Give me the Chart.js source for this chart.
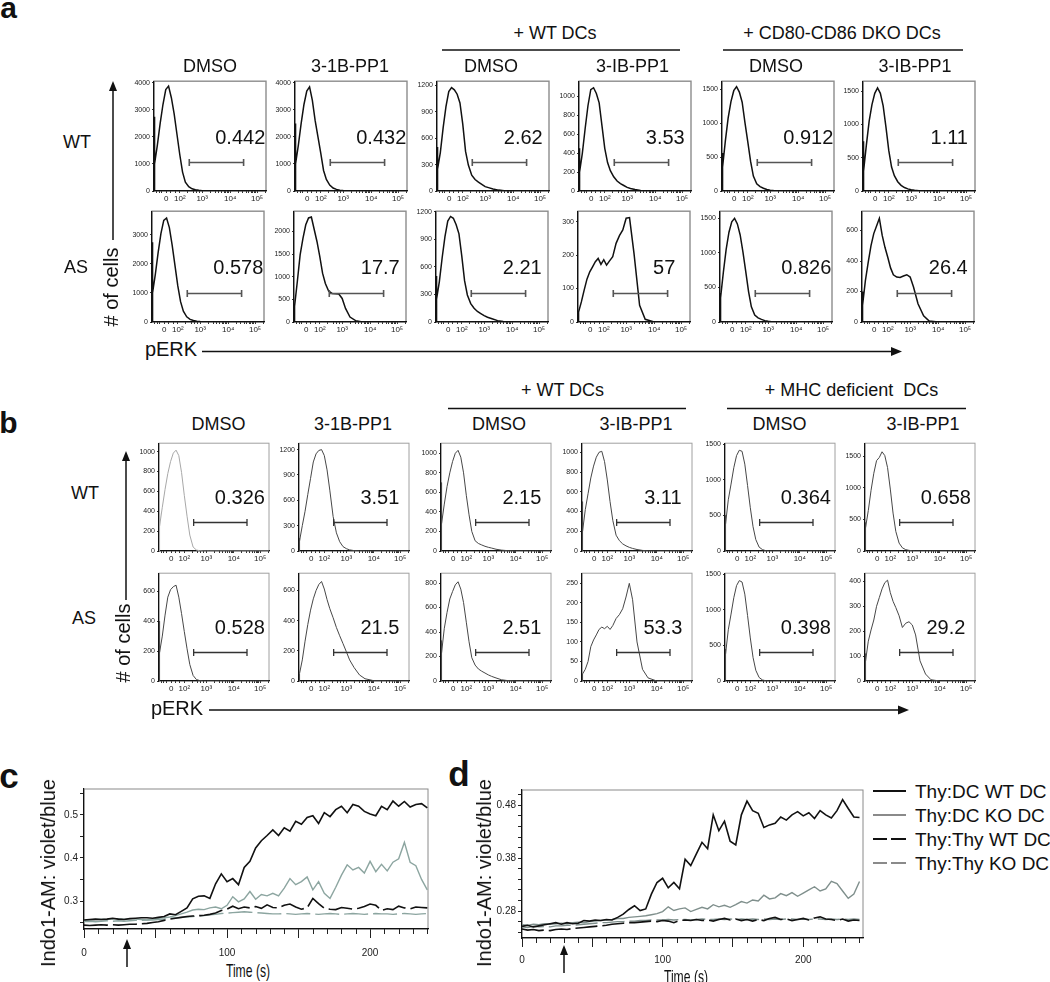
<!DOCTYPE html>
<html>
<head>
<meta charset="utf-8">
<script src="https://cdn.jsdelivr.net/npm/chart.js@4.4.0/dist/chart.umd.min.js"></script>
<style>
  body { margin: 0; background: #fff; }
  #fig { position: relative; width: 1050px; height: 982px; overflow: hidden; font-family: "Liberation Sans", Arial, sans-serif; color: #111; }
  #fig canvas { position: absolute; }
  .t { position: absolute; white-space: pre; line-height: 1; transform: translate(-50%, -50%); }
</style>
</head>
<body>
<div id="fig"></div>
<script>
// canales del eje pERK (0..1000 = ancho del recuadro)
var canales = [0, 2, 8, 30, 55, 80, 105, 130, 155, 180, 205, 230, 255, 280, 310, 340, 370, 400, 430, 460, 500, 550, 600, 680, 800, 1000];
var ejeXhist = [110, 230, 430, 680, 920];
var etiquetasXhist = ['0', '10²', '10³', '10⁴', '10⁵'];
var menoresXhist = [20, 45, 70, 150, 190, 300, 350, 380, 405, 505, 549, 580, 605, 625, 641, 656, 669, 752, 794, 824, 848, 867, 883, 897, 909, 992];
var puertaCanales = [315, 800];

// panel a, fila WT
var aWT_DMSO    = [0, 2750, 1000, 1700, 2500, 3200, 3750, 3880, 3450, 2850, 2100, 1350, 700, 330, 160, 80, 50, 25, 10, 5, 2, 0, 0, 0, 0, 0];
var aWT_PP1     = [0, 2500, 1000, 1700, 2500, 3200, 3700, 3850, 3350, 2600, 2000, 1400, 760, 430, 220, 110, 60, 30, 15, 8, 3, 0, 0, 0, 0, 0];
var aWT_wtDMSO  = [0, 500, 250, 440, 720, 960, 1130, 1175, 1150, 1100, 1000, 760, 450, 295, 180, 130, 100, 75, 50, 38, 22, 10, 4, 0, 0, 0];
var aWT_wtPP1   = [0, 450, 200, 400, 660, 900, 1070, 1090, 1030, 930, 690, 450, 300, 215, 150, 105, 78, 58, 38, 27, 15, 6, 2, 0, 0, 0];
var aWT_dkoDMSO = [0, 560, 350, 740, 1080, 1320, 1480, 1540, 1460, 1310, 1010, 730, 440, 220, 105, 65, 40, 22, 12, 6, 2, 0, 0, 0, 0, 0];
var aWT_dkoPP1  = [0, 750, 300, 690, 1050, 1300, 1470, 1550, 1470, 1280, 960, 610, 360, 230, 140, 85, 52, 32, 20, 10, 4, 0, 0, 0, 0, 0];
// panel a, fila AS
var aAS_DMSO    = [0, 2750, 1000, 1650, 2400, 3050, 3500, 3580, 3250, 2650, 1950, 1250, 700, 370, 180, 90, 50, 28, 14, 6, 2, 0, 0, 0, 0, 0];
var aAS_PP1     = [0, 300, 350, 900, 1490, 1850, 2150, 2300, 2320, 2050, 1780, 1450, 1080, 850, 680, 630, 625, 620, 520, 300, 110, 30, 5, 0, 0, 0];
var aAS_wtDMSO  = [0, 500, 250, 440, 700, 930, 1100, 1150, 1130, 1060, 960, 720, 450, 295, 200, 150, 115, 92, 70, 52, 35, 15, 6, 0, 0, 0];
var aAS_wtPP1   = [0, 25, 30, 60, 95, 128, 150, 165, 180, 190, 172, 186, 170, 182, 195, 235, 258, 275, 310, 312, 205, 50, 8, 0, 0, 0];
var aAS_dkoDMSO = [0, 420, 350, 720, 1050, 1300, 1450, 1500, 1420, 1260, 1010, 730, 440, 220, 100, 60, 38, 20, 10, 5, 2, 0, 0, 0, 0, 0];
var aAS_dkoPP1  = [0, 200, 110, 270, 390, 500, 580, 630, 680, 570, 490, 425, 355, 310, 295, 292, 302, 310, 295, 230, 120, 40, 6, 0, 0, 0];
// panel b, fila WT
var bWT_DMSO    = [0, 380, 250, 440, 620, 780, 900, 985, 1015, 960, 790, 560, 350, 160, 40, 10, 3, 0, 0, 0, 0, 0, 0, 0, 0, 0];
var bWT_PP1     = [0, 150, 120, 300, 470, 670, 860, 1054, 1150, 1190, 1200, 1130, 960, 720, 410, 215, 110, 52, 28, 13, 5, 2, 0, 0, 0, 0];
var bWT_wtDMSO  = [0, 700, 280, 480, 660, 800, 915, 1000, 1030, 960, 800, 570, 370, 200, 105, 77, 62, 48, 38, 30, 18, 9, 4, 0, 0, 0];
var bWT_wtPP1   = [0, 500, 200, 420, 580, 740, 860, 950, 1000, 1010, 905, 720, 500, 310, 160, 105, 72, 52, 37, 26, 15, 6, 2, 0, 0, 0];
var bWT_mhcDMSO = [0, 500, 380, 720, 940, 1170, 1340, 1415, 1400, 1220, 920, 608, 340, 160, 55, 20, 5, 0, 0, 0, 0, 0, 0, 0, 0, 0];
var bWT_mhcPP1  = [0, 450, 370, 640, 960, 1230, 1430, 1480, 1570, 1510, 1320, 980, 600, 310, 125, 50, 22, 10, 4, 0, 0, 0, 0, 0, 0, 0];
// panel b, fila AS
var bAS_DMSO    = [0, 400, 190, 300, 440, 560, 610, 630, 640, 560, 450, 330, 215, 110, 37, 10, 3, 0, 0, 0, 0, 0, 0, 0, 0, 0];
var bAS_PP1     = [0, 30, 50, 140, 264, 375, 470, 545, 600, 640, 660, 610, 540, 480, 420, 355, 300, 248, 195, 140, 90, 40, 15, 2, 0, 0];
var bAS_wtDMSO  = [0, 330, 230, 430, 560, 670, 730, 785, 810, 750, 640, 480, 320, 190, 130, 98, 80, 65, 50, 38, 25, 10, 4, 0, 0, 0];
var bAS_wtPP1   = [0, 15, 18, 30, 50, 88, 105, 118, 132, 138, 134, 140, 132, 142, 160, 170, 185, 215, 250, 208, 100, 30, 8, 0, 0, 0];
var bAS_mhcDMSO = [0, 450, 380, 720, 940, 1170, 1340, 1410, 1390, 1220, 920, 605, 330, 150, 50, 15, 4, 0, 0, 0, 0, 0, 0, 0, 0, 0];
var bAS_mhcPP1  = [0, 110, 80, 160, 205, 245, 300, 335, 370, 395, 405, 355, 320, 295, 262, 215, 232, 238, 225, 185, 81, 28, 5, 0, 0, 0];

// porcentajes de la puerta
var pctA_WT = ['0.442', '0.432', '2.62', '3.53', '0.912', '1.11'];
var pctA_AS = ['0.578', '17.7', '2.21', '57', '0.826', '26.4'];
var pctB_WT = ['0.326', '3.51', '2.15', '3.11', '0.364', '0.658'];
var pctB_AS = ['0.528', '21.5', '2.51', '53.3', '0.398', '29.2'];

// ejes Y de cada histograma
var maxA_WT = [4062, 4062, 1248, 1159, 1620, 1652];
var maxA_AS = [3815, 2449, 1207, 331, 1604, 727];
var maxB_WT = [1085, 1276, 1103, 1092, 1514, 1706];
var maxB_AS = [720, 715, 880, 276, 1514, 433];
var ticksA_WT = [[0, 1000, 2000, 3000, 4000], [0, 1000, 2000, 3000, 4000], [0, 300, 600, 900, 1200], [0, 200, 400, 600, 800, 1000], [0, 500, 1000, 1500], [0, 500, 1000, 1500]];
var ticksA_AS = [[0, 1000, 2000, 3000], [0, 500, 1000, 1500, 2000], [0, 300, 600, 900, 1200], [0, 100, 200, 300], [0, 500, 1000, 1500], [0, 200, 400, 600]];
var ticksB_WT = [[0, 200, 400, 600, 800, 1000], [0, 300, 600, 900, 1200], [0, 200, 400, 600, 800, 1000], [0, 200, 400, 600, 800, 1000], [0, 500, 1000, 1500], [0, 500, 1000, 1500]];
var ticksB_AS = [[0, 200, 400, 600], [0, 200, 400, 600], [0, 200, 400, 600, 800], [0, 50, 100, 150, 200, 250], [0, 500, 1000, 1500], [0, 100, 200, 300, 400]];

// paneles c y d: tiempo (s)
var tiempo = [0, 4, 8, 12, 16, 20, 24, 28, 32, 36, 40, 44, 48, 52, 56, 60, 64, 68, 72, 76, 80, 84, 88, 92, 96, 100, 104, 108, 112, 116, 120, 124, 128, 132, 136, 140, 144, 148, 152, 156, 160, 164, 168, 172, 176, 180, 184, 188, 192, 196, 200, 204, 208, 212, 216, 220, 224, 228, 232, 236, 240];
var c_dcWT = [.256, .257, .258, .257, .258, .260, .258, .257, .259, .260,
  .261, .261, .260, .262, .264, .270, .268, .276, .284, .305,
  .311, .312, .306, .340, .363, .345, .352, .338, .378, .392,
  .423, .440, .452, .465, .452, .470, .462, .485, .478, .494,
  .498, .480, .505, .496, .512, .520, .505, .524, .520, .508,
  .502, .498, .520, .512, .532, .520, .531, .518, .524, .526, .516];
var c_dcKO = [.255, .256, .257, .258, .257, .258, .259, .258, .259, .258,
  .257, .256, .258, .260, .261, .263, .266, .270, .274, .279,
  .281, .280, .284, .286, .282, .290, .310, .298, .305, .322,
  .304, .315, .312, .318, .312, .330, .352, .338, .345, .356,
  .326, .345, .318, .306, .332, .360, .384, .372, .378, .365,
  .392, .368, .385, .370, .390, .398, .436, .390, .382, .350, .326];
var c_thyWT = [.244, .243, .244, .245, .244, .245, .244, .245, .246, .246,
  .247, .248, .250, .252, .255, .258, .260, .262, .264, .265,
  .266, .267, .269, .272, .278, .281, .288, .282, .286, .284,
  .287, .283, .291, .285, .284, .290, .293, .286, .281, .284,
  .306, .294, .283, .281, .280, .285, .283, .281, .283, .287,
  .293, .290, .278, .282, .280, .288, .284, .282, .286, .285, .284];
var c_thyKO = [.252, .253, .252, .253, .254, .253, .254, .253, .254, .255,
  .255, .256, .256, .257, .258, .260, .261, .262, .263, .264,
  .265, .266, .268, .269, .271, .272, .273, .274, .275, .274,
  .273, .272, .271, .270, .270, .271, .270, .269, .270, .271,
  .270, .269, .270, .271, .270, .269, .270, .271, .270, .269,
  .270, .271, .270, .270, .269, .270, .271, .270, .269, .270, .271];
var d_dcWT = [.251, .253, .250, .252, .254, .256, .258, .255, .258, .256,
  .257, .262, .261, .263, .262, .264, .263, .268, .274, .283,
  .290, .281, .284, .312, .334, .342, .324, .334, .322, .378,
  .366, .388, .410, .398, .462, .432, .450, .412, .405, .462,
  .488, .470, .465, .438, .443, .446, .458, .452, .462, .468,
  .460, .466, .455, .470, .462, .456, .470, .491, .474, .458, .457];
var d_dcKO = [.254, .253, .255, .254, .256, .255, .256, .257, .256, .258,
  .259, .258, .260, .261, .262, .263, .264, .266, .266, .268,
  .269, .270, .271, .273, .275, .279, .288, .281, .284, .286,
  .279, .283, .287, .284, .292, .288, .291, .287, .292, .298,
  .295, .301, .299, .310, .303, .305, .313, .309, .315, .308,
  .314, .320, .326, .318, .322, .336, .332, .318, .304, .312, .336];
var d_thyWT = [.246, .244, .245, .243, .244, .243, .245, .246, .245, .247,
  .248, .249, .250, .251, .252, .253, .255, .256, .257, .258,
  .258, .259, .260, .261, .260, .262, .261, .258, .262, .263,
  .262, .264, .262, .263, .261, .264, .266, .263, .265, .262,
  .264, .261, .264, .262, .266, .268, .264, .265, .262, .264,
  .266, .263, .267, .269, .265, .264, .262, .265, .261, .263, .262];
var d_thyKO = [.250, .249, .251, .250, .251, .250, .252, .252, .253, .253,
  .254, .255, .256, .257, .258, .258, .259, .260, .260, .261,
  .261, .262, .262, .263, .263, .263, .264, .263, .264, .264,
  .263, .264, .265, .264, .264, .265, .264, .265, .264, .265,
  .264, .265, .264, .265, .264, .265, .264, .265, .265, .264,
  .265, .264, .265, .265, .264, .265, .264, .265, .264, .265, .264];
var leyenda = ['Thy:DC WT DC', 'Thy:DC KO DC', 'Thy:Thy WT DC', 'Thy:Thy KO DC'];
var marcasYc = [0.25, 0.3, 0.35, 0.4, 0.45, 0.5, 0.55];
var etiquetasYc = ['', '0.3', '', '0.4', '', '0.5', ''];
var marcasYd = [0.24, 0.26, 0.28, 0.30, 0.32, 0.34, 0.36, 0.38, 0.40, 0.42, 0.44, 0.46, 0.48, 0.50];
var etiquetasYd = ['', '', '0.28', '', '', '', '', '0.38', '', '', '', '', '0.48', ''];
var marcasXt = [0, 50, 100, 150, 200];
var etiquetasXt = ['0', '', '100', '', '200'];
var menoresXt = [10, 20, 30, 40, 60, 70, 80, 90, 110, 120, 130, 140, 160, 170, 180, 190, 210, 220, 230, 240];

Chart.defaults.font.family = '"Liberation Sans", Arial, sans-serif';
Chart.defaults.color = '#222';
var fig = document.getElementById('fig');

// marco gris, puerta y porcentaje
var decoracion = {
  id: 'decoracion',
  beforeDraw: function(chart, args, op) {
    var a = chart.chartArea, ctx = chart.ctx;
    ctx.save();
    ctx.strokeStyle = op.marco;
    ctx.lineWidth = op.grosorMarco;
    ctx.strokeRect(a.left, a.top, a.right - a.left, a.bottom - a.top);
    ctx.restore();
  },
  afterDraw: function(chart, args, op) {
    var a = chart.chartArea, ctx = chart.ctx;
    if (op.menores) {
      var sx = chart.scales.x;
      ctx.save();
      ctx.strokeStyle = '#222';
      ctx.lineWidth = 1;
      ctx.beginPath();
      op.menores.forEach(function(v) {
        var px = Math.round(sx.getPixelForValue(v)) + 0.5;
        ctx.moveTo(px, a.bottom);
        ctx.lineTo(px, a.bottom + 5);
      });
      ctx.stroke();
      ctx.restore();
    }
    if (!op.pct) return;
    var x = chart.scales.x;
    var x1 = x.getPixelForValue(op.puerta[0]), x2 = x.getPixelForValue(op.puerta[1]);
    var yp = Math.round(a.bottom - op.alturaPuerta * (a.bottom - a.top)) + 0.5;
    ctx.save();
    ctx.strokeStyle = op.colorPuerta;
    ctx.lineWidth = op.grosorPuerta;
    ctx.beginPath();
    ctx.moveTo(x1, yp); ctx.lineTo(x2, yp);
    ctx.moveTo(x1, yp - 3.5); ctx.lineTo(x1, yp + 3.5);
    ctx.moveTo(x2, yp - 3.5); ctx.lineTo(x2, yp + 3.5);
    ctx.stroke();
    ctx.fillStyle = '#111';
    ctx.font = '20px "Liberation Sans", Arial, sans-serif';
    ctx.textAlign = 'center';
    ctx.textBaseline = 'middle';
    var w = a.right - a.left;
    ctx.fillText(op.pct, a.left + w * (0.5 + op.desplazTexto), a.top + op.altoTexto * (a.bottom - a.top));
    ctx.restore();
  }
};

function nuevoCanvas(caja, anchoY, altoX, padArr, padDer) {
  var cv = document.createElement('canvas');
  cv.width = anchoY + caja[2] + padDer;
  cv.height = padArr + caja[3] + altoX;
  cv.style.left = (caja[0] - anchoY) + 'px';
  cv.style.top = (caja[1] - padArr) + 'px';
  fig.appendChild(cv);
  return cv;
}

function crearHistograma(caja, datos, maxY, marcasY, pct, est, colorLinea) {
  var anchoY = 26, altoX = 15, padArr = 4, padDer = 4;
  var cv = nuevoCanvas(caja, anchoY, altoX, padArr, padDer);
  var puntos = datos.map(function(v, i) { return {x: canales[i], y: v}; });
  return new Chart(cv.getContext('2d'), {
    type: 'line',
    data: {datasets: [{data: puntos, borderColor: colorLinea || est.linea, borderWidth: est.grosor, pointRadius: 0, tension: 0, fill: false}]},
    options: {
      responsive: false, animation: false, devicePixelRatio: 1,
      layout: {padding: {left: 0, top: padArr, right: padDer, bottom: 0}},
      plugins: {
        legend: {display: false}, tooltip: {enabled: false},
        decoracion: {marco: est.marco, grosorMarco: est.grosorMarco, pct: pct, puerta: puertaCanales,
          alturaPuerta: est.alturaPuerta, colorPuerta: est.puerta, grosorPuerta: est.grosorPuerta,
          desplazTexto: est.desplazTexto, altoTexto: est.altoTexto}
      },
      scales: {
        x: {
          type: 'linear', min: 0, max: 1000,
          afterFit: function(s) { s.height = altoX; },
          afterBuildTicks: function(s) { s.ticks = ejeXhist.concat(menoresXhist).map(function(v) { return {value: v}; }); },
          ticks: {autoSkip: false, maxRotation: 0, padding: 1, font: {size: 8},
            callback: function(v, i) { return i < etiquetasXhist.length ? etiquetasXhist[i] : ''; }},
          grid: {drawOnChartArea: false, tickLength: 2, color: '#333'},
          border: {display: true, color: '#111', width: 1.2}
        },
        y: {
          min: 0, max: maxY,
          afterFit: function(s) { s.width = anchoY; },
          afterBuildTicks: function(s) { s.ticks = marcasY.map(function(v) { return {value: v}; }); },
          ticks: {autoSkip: false, padding: 2, font: {size: 7}, callback: function(v) { return String(v); }},
          grid: {drawOnChartArea: false, tickLength: 2, color: '#333'},
          border: {display: true, color: '#111', width: 1.2}
        }
      }
    },
    plugins: [decoracion]
  });
}

var estiloA = {linea: '#111', grosor: 1.5, marco: '#8c8c8c', grosorMarco: 1.4, puerta: '#555', grosorPuerta: 1.6, alturaPuerta: 0.26, desplazTexto: 0.27, altoTexto: 0.52};
var estiloB = {linea: '#474747', grosor: 1, marco: '#a0a0a0', grosorMarco: 1, puerta: '#333', grosorPuerta: 1.3, alturaPuerta: 0.268, desplazTexto: 0.235, altoTexto: 0.51};

var filas = [
  {izq: [154, 295, 437, 579, 722, 863], arriba: 79, ancho: 112, alto: 112, datos: [aWT_DMSO, aWT_PP1, aWT_wtDMSO, aWT_wtPP1, aWT_dkoDMSO, aWT_dkoPP1], max: maxA_WT, ticks: ticksA_WT, pct: pctA_WT, est: estiloA},
  {izq: [152, 294, 436, 578, 720, 862], arriba: 209, ancho: 112, alto: 113, datos: [aAS_DMSO, aAS_PP1, aAS_wtDMSO, aAS_wtPP1, aAS_dkoDMSO, aAS_dkoPP1], max: maxA_AS, ticks: ticksA_AS, pct: pctA_AS, est: estiloA},
  {izq: [159, 299, 441, 582, 725, 865], arriba: 441, ancho: 110, alto: 110, datos: [bWT_DMSO, bWT_PP1, bWT_wtDMSO, bWT_wtPP1, bWT_mhcDMSO, bWT_mhcPP1], max: maxB_WT, ticks: ticksB_WT, pct: pctB_WT, est: estiloB},
  {izq: [159, 299, 441, 582, 725, 865], arriba: 571, ancho: 110, alto: 110, datos: [bAS_DMSO, bAS_PP1, bAS_wtDMSO, bAS_wtPP1, bAS_mhcDMSO, bAS_mhcPP1], max: maxB_AS, ticks: ticksB_AS, pct: pctB_AS, est: estiloB}
];

filas.forEach(function(f, n) {
  for (var k = 0; k < 6; k++) {
    var color = (n === 2 && k === 0) ? '#a8a8a8' : null; // el primero de b es gris claro
    crearHistograma([f.izq[k], f.arriba, f.ancho, f.alto], f.datos[k], f.max[k], f.ticks[k], f.pct[k], f.est, color);
  }
});

// curvas de calcio (c y d)
function crearCurso(caja, maxX, minY, maxY, marcasY, etiquetasY, series, padTicks) {
  var anchoY = 40, altoX = 30, padArr = 4, padDer = 4;
  var cv = nuevoCanvas(caja, anchoY, altoX, padArr, padDer);
  return new Chart(cv.getContext('2d'), {
    type: 'line',
    data: {
      labels: tiempo,
      datasets: series.map(function(s) {
        return {data: s.datos.map(function(v, i) { return {x: tiempo[i], y: v}; }), borderColor: s.color, borderWidth: s.grosor,
          borderDash: s.guion, pointRadius: 0, tension: 0, fill: false};
      })
    },
    options: {
      responsive: false, animation: false, devicePixelRatio: 1,
      layout: {padding: {left: 0, top: padArr, right: padDer, bottom: 0}},
      plugins: {legend: {display: false}, tooltip: {enabled: false},
        decoracion: {marco: '#8a8a8a', grosorMarco: 1, pct: null, menores: menoresXt}},
      scales: {
        x: {
          type: 'linear', min: 0, max: maxX,
          afterFit: function(s) { s.height = altoX; },
          afterBuildTicks: function(s) { s.ticks = marcasXt.map(function(v) { return {value: v}; }); },
          ticks: {autoSkip: false, maxRotation: 0, padding: padTicks, font: {size: 10}, callback: function(v, i) { return etiquetasXt[i]; }},
          grid: {drawOnChartArea: false, tickLength: 9, color: '#222'},
          border: {display: true, color: '#111', width: 1.2}
        },
        y: {
          min: minY, max: maxY,
          afterFit: function(s) { s.width = anchoY; },
          afterBuildTicks: function(s) { s.ticks = marcasY.map(function(v) { return {value: v}; }); },
          ticks: {autoSkip: false, padding: 2, font: {size: 10}, callback: function(v, i) { return etiquetasY[i]; }},
          grid: {drawOnChartArea: false, tickLength: 4, color: '#222'},
          border: {display: true, color: '#111', width: 1.2}
        }
      }
    },
    plugins: [decoracion]
  });
}

crearCurso([84, 785, 344, 144], 240.5, 0.235, 0.56, marcasYc, etiquetasYc, [
  {datos: c_dcWT, color: '#111', grosor: 1.6, guion: []},
  {datos: c_dcKO, color: '#8ca5a0', grosor: 1.4, guion: []},
  {datos: c_thyWT, color: '#111', grosor: 1.6, guion: [24, 5]},
  {datos: c_thyKO, color: '#8ca5a0', grosor: 1.4, guion: [24, 5]}
], 9);
crearCurso([522, 786, 341, 152], 242.5, 0.229, 0.509, marcasYd, etiquetasYd, [
  {datos: d_dcWT, color: '#111', grosor: 1.6, guion: []},
  {datos: d_dcKO, color: '#7f8f8c', grosor: 1.4, guion: []},
  {datos: d_thyWT, color: '#111', grosor: 1.6, guion: [22, 5]},
  {datos: d_thyKO, color: '#7f8f8c', grosor: 1.4, guion: [22, 5]}
], 7);

// textos
function texto(str, cx, cy, size, extra) {
  var d = document.createElement('div');
  d.className = 't';
  d.textContent = str;
  d.style.left = cx + 'px';
  d.style.top = cy + 'px';
  d.style.fontSize = size + 'px';
  if (extra) d.style.cssText += extra;
  fig.appendChild(d);
}
var negrita = 'font-weight:bold;';
var girado = 'transform:translate(-50%,-50%) rotate(-90deg);';

texto('a', 8.5, 8, 30, negrita);
texto('b', 8.5, 423, 30, negrita);
texto('c', 9, 775, 35, negrita);
texto('d', 459, 773, 35, negrita);

texto('DMSO', 210, 66, 18); texto('3-1B-PP1', 350, 66, 18);
texto('+ WT DCs', 555, 32.5, 18);
texto('DMSO', 491, 66, 18); texto('3-IB-PP1', 632.5, 66, 18);
texto('+ CD80-CD86 DKO DCs', 842, 32.5, 18);
texto('DMSO', 776, 66, 18); texto('3-IB-PP1', 915, 66, 18);
texto('WT', 77, 142, 18); texto('AS', 76, 267, 18);
texto('# of cells', 111, 287, 20, girado);
texto('pERK', 171, 349, 20);

texto('DMSO', 218.5, 424, 18); texto('3-1B-PP1', 353, 424, 18);
texto('+ WT DCs', 562.5, 390, 18);
texto('DMSO', 499, 424, 18); texto('3-IB-PP1', 636, 424, 18);
texto('+ MHC deficient  DCs', 851.5, 390, 18);
texto('DMSO', 779.5, 424, 18); texto('3-IB-PP1', 923, 424, 18);
texto('WT', 85, 493, 18); texto('AS', 84, 618, 18);
texto('# of cells', 122.5, 643, 20, girado);
texto('pERK', 177, 708, 20);

texto('Indo1-AM: violet/blue', 48, 873, 20, girado);
texto('Indo1-AM: violet/blue', 484, 873, 20, girado);
texto('Time (s)', 248, 970, 19, 'transform:translate(-50%,-50%) scaleX(0.64);');
texto('Time (s)', 686, 976, 19, 'transform:translate(-50%,-50%) scaleX(0.64);');
var filasLeyenda = [791, 815, 839, 863];
leyenda.forEach(function(s, i) {
  texto(s, 915, filasLeyenda[i], 19, 'transform:translate(0,-50%);');
});

// flechas, lineas de grupo y muestras de la leyenda
var capa = document.createElement('div');
capa.innerHTML = '<svg width="1050" height="982" style="position:absolute;left:0;top:0" xmlns="http://www.w3.org/2000/svg">' +
  '<g stroke="#111" stroke-width="1.5" fill="none">' +
  '<line x1="442" y1="50" x2="680" y2="50"/><line x1="723" y1="50" x2="963" y2="50"/>' +
  '<line x1="448" y1="408.5" x2="686" y2="408.5"/><line x1="727" y1="408.5" x2="966" y2="408.5"/>' +
  '<line x1="113" y1="240" x2="113" y2="88"/><line x1="126" y1="600" x2="126" y2="458"/>' +
  '<line x1="202" y1="351.5" x2="894" y2="351.5"/><line x1="209" y1="710" x2="901" y2="710"/>' +
  '<line x1="127" y1="967" x2="127" y2="946"/><line x1="564" y1="973" x2="564" y2="952"/>' +
  '</g><g fill="#111" stroke="none">' +
  '<polygon points="113,81 109,91 117,91"/><polygon points="126,451 122,461 130,461"/>' +
  '<polygon points="902,351.5 891,347 891,356"/><polygon points="909,710 898,705.5 898,714.5"/>' +
  '<polygon points="127,939 123,949 131,949"/><polygon points="564,945 560,955 568,955"/>' +
  '</g><g fill="none" stroke-width="2">' +
  '<line x1="873" y1="791" x2="906" y2="791" stroke="#111"/>' +
  '<line x1="873" y1="815" x2="906" y2="815" stroke="#8a8a8a"/>' +
  '<line x1="873" y1="839" x2="887" y2="839" stroke="#111"/><line x1="891" y1="839" x2="906" y2="839" stroke="#111"/>' +
  '<line x1="873" y1="863" x2="887" y2="863" stroke="#8a8a8a"/><line x1="891" y1="863" x2="906" y2="863" stroke="#8a8a8a"/>' +
  '</g></svg>';
fig.appendChild(capa);
</script>
</body>
</html>
